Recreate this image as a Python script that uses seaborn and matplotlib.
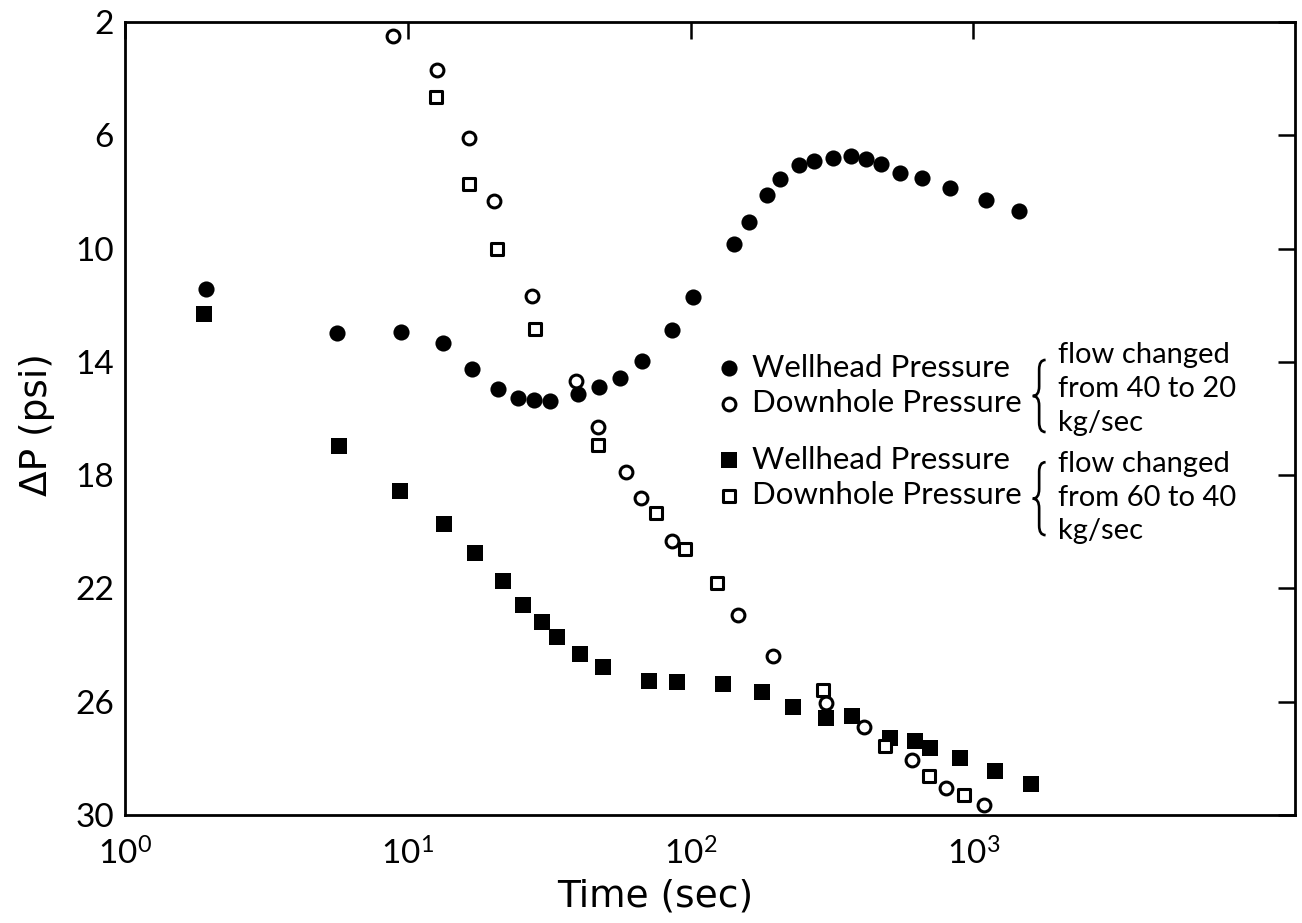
"""Pressure transient after flow-rate change: wellhead vs downhole dP on log time."""

import matplotlib
matplotlib.use("Agg")
import matplotlib.pyplot as plt
import matplotlib.ticker as mticker
from matplotlib.path import Path
from matplotlib.patches import PathPatch
import pandas as pd
import seaborn as sns

# ── Data ────────────────────────────────────────────────────────────────────

# flow changed from 40 to 20 kg/sec
wh_40_t = [1.94, 5.62, 9.46, 13.3, 16.9, 20.9, 24.5, 28.0, 31.9, 40.1, 47.6, 56.5,
           67.6, 85.7, 102, 142, 161, 186, 207, 242, 274, 318, 368, 416, 471, 550,
           659, 828, 1112, 1445]
wh_40_dp = [11.43, 12.99, 12.95, 13.34, 14.26, 14.97, 15.29, 15.36, 15.39, 15.14,
            14.90, 14.58, 13.98, 12.88, 11.72, 9.84, 9.07, 8.11, 7.55, 7.05, 6.91,
            6.81, 6.73, 6.84, 7.02, 7.34, 7.51, 7.87, 8.29, 8.68]

dh_40_t = [8.87, 12.7, 16.4, 20.2, 27.6, 39.4, 47.2, 59.3, 67.0, 86.3, 147, 196,
           302, 409, 607, 801, 1094]
dh_40_dp = [2.49, 3.70, 6.10, 8.33, 11.68, 14.69, 16.28, 17.90, 18.82, 20.34, 22.95,
            24.40, 26.06, 26.88, 28.04, 29.03, 29.63]

# flow changed from 60 to 40 kg/sec
wh_60_t = [1.91, 5.7, 9.38, 13.4, 17.3, 21.7, 25.6, 29.9, 33.8, 40.7, 49.1, 71.0,
           89.2, 130, 179, 231, 302, 371, 507, 622, 703, 900, 1188, 1596]
wh_60_dp = [12.32, 16.98, 18.54, 19.74, 20.73, 21.72, 22.60, 23.17, 23.73, 24.33,
            24.79, 25.25, 25.29, 25.36, 25.67, 26.20, 26.59, 26.52, 27.27, 27.37,
            27.65, 27.97, 28.43, 28.89]

dh_60_t = [12.6, 16.4, 20.7, 28.2, 47.2, 75.7, 95.9, 124, 295, 487, 697, 930]
dh_60_dp = [4.65, 7.72, 10.02, 12.85, 16.95, 19.35, 20.59, 21.82, 25.57, 27.58,
            28.61, 29.28]

x_ticks = [1, 10, 100, 1000]
y_ticks = [2, 6, 10, 14, 18, 22, 26, 30]
legend_label_wh = "Wellhead Pressure"
legend_label_dh = "Downhole Pressure"
note_40 = "flow changed\nfrom 40 to 20\nkg/sec"
note_60 = "flow changed\nfrom 60 to 40\nkg/sec"


def draw_brace(ax, xc, top, bottom, w=0.011, r=0.012):
    """Left-pointing curly brace drawn in axes-fraction coordinates."""
    mid = (top + bottom) / 2
    xr, xl = xc + w / 2, xc - w / 2
    verts = [
        (xr, top), (xc, top), (xc, top - r),
        (xc, mid + r),
        (xc, mid), (xl, mid),
        (xc, mid), (xc, mid - r),
        (xc, bottom + r),
        (xc, bottom), (xr, bottom),
    ]
    codes = [Path.MOVETO, Path.CURVE3, Path.CURVE3,
             Path.LINETO,
             Path.CURVE3, Path.CURVE3,
             Path.CURVE3, Path.CURVE3,
             Path.LINETO,
             Path.CURVE3, Path.CURVE3]
    ax.add_patch(PathPatch(Path(verts, codes), transform=ax.transAxes, fill=False,
                           lw=1.9, edgecolor="black", clip_on=False))


def main():
    sns.set_theme(style="white")
    plt.rcParams["font.family"] = ["Lato", "DejaVu Sans"]
    plt.rcParams["mathtext.default"] = "regular"
    plt.rcParams["text.color"] = "black"
    plt.rcParams["axes.labelcolor"] = "black"

    fig = plt.figure(figsize=(13.02, 9.23), dpi=100)
    ax = fig.add_axes([0.096, 0.117, 0.899, 0.859])

    filled = dict(color="black", edgecolor="black", linewidth=0)
    hollow = dict(facecolor="white", edgecolor="black", linewidth=2.2)

    sns.scatterplot(data=pd.DataFrame({"t": wh_40_t, "dp": wh_40_dp}), x="t", y="dp",
                    marker="o", s=135, label=legend_label_wh, ax=ax, zorder=3, **filled)
    sns.scatterplot(data=pd.DataFrame({"t": dh_40_t, "dp": dh_40_dp}), x="t", y="dp",
                    marker="o", s=85, label=legend_label_dh, ax=ax, zorder=4, **hollow)
    sns.scatterplot(data=pd.DataFrame({"t": wh_60_t, "dp": wh_60_dp}), x="t", y="dp",
                    marker="s", s=120, label=legend_label_wh, ax=ax, zorder=3, **filled)
    sns.scatterplot(data=pd.DataFrame({"t": dh_60_t, "dp": dh_60_dp}), x="t", y="dp",
                    marker="s", s=80, label=legend_label_dh, ax=ax, zorder=4, **hollow)

    ax.set_xscale("log")
    ax.set_xlim(1, 10 ** 4.139)
    ax.set_ylim(30, 2)
    ax.set_xticks(x_ticks)
    ax.xaxis.set_major_formatter(mticker.LogFormatterSciNotation())
    ax.xaxis.set_minor_locator(mticker.NullLocator())
    ax.set_yticks(y_ticks)

    for side in ax.spines.values():
        side.set_linewidth(2.0)
        side.set_color("black")
    ax.tick_params(axis="both", direction="in", top=True, right=True, length=12,
                   width=1.8, labelsize=24, colors="black")
    ax.tick_params(axis="x", pad=16)
    ax.tick_params(axis="y", pad=8)

    ax.set_xlabel("Time (sec)", fontsize=27, family="DejaVu Sans", color="black")
    ax.xaxis.set_label_coords(0.453, -0.08)
    ax.set_ylabel("ΔP (psi)", fontsize=27, family="DejaVu Sans", color="black")
    ax.yaxis.set_label_coords(-0.06, 0.492)

    # two stacked legends, one per flow-change test
    handles, labels = ax.get_legend_handles_labels()
    if ax.get_legend() is not None:
        ax.get_legend().remove()
    leg_kw = dict(frameon=False, loc="upper left", fontsize=22.5, handletextpad=0.15,
                  borderpad=0, borderaxespad=0, labelspacing=0.24, handlelength=1.2,
                  labelcolor="black")
    leg1 = ax.legend(handles[:2], labels[:2], bbox_to_anchor=(0.5, 0.582), **leg_kw)
    ax.add_artist(leg1)
    ax.legend(handles[2:], labels[2:], bbox_to_anchor=(0.5, 0.466), **leg_kw)

    note_kw = dict(transform=ax.transAxes, fontsize=21, va="top", ha="left",
                   linespacing=1.36, color="black")
    ax.text(0.797, 0.596, note_40, **note_kw)
    ax.text(0.797, 0.459, note_60, **note_kw)
    draw_brace(ax, 0.781, 0.574, 0.483)
    draw_brace(ax, 0.781, 0.445, 0.353)

    fig.savefig("out.png", dpi=100)
    plt.close(fig)


if __name__ == "__main__":
    main()
